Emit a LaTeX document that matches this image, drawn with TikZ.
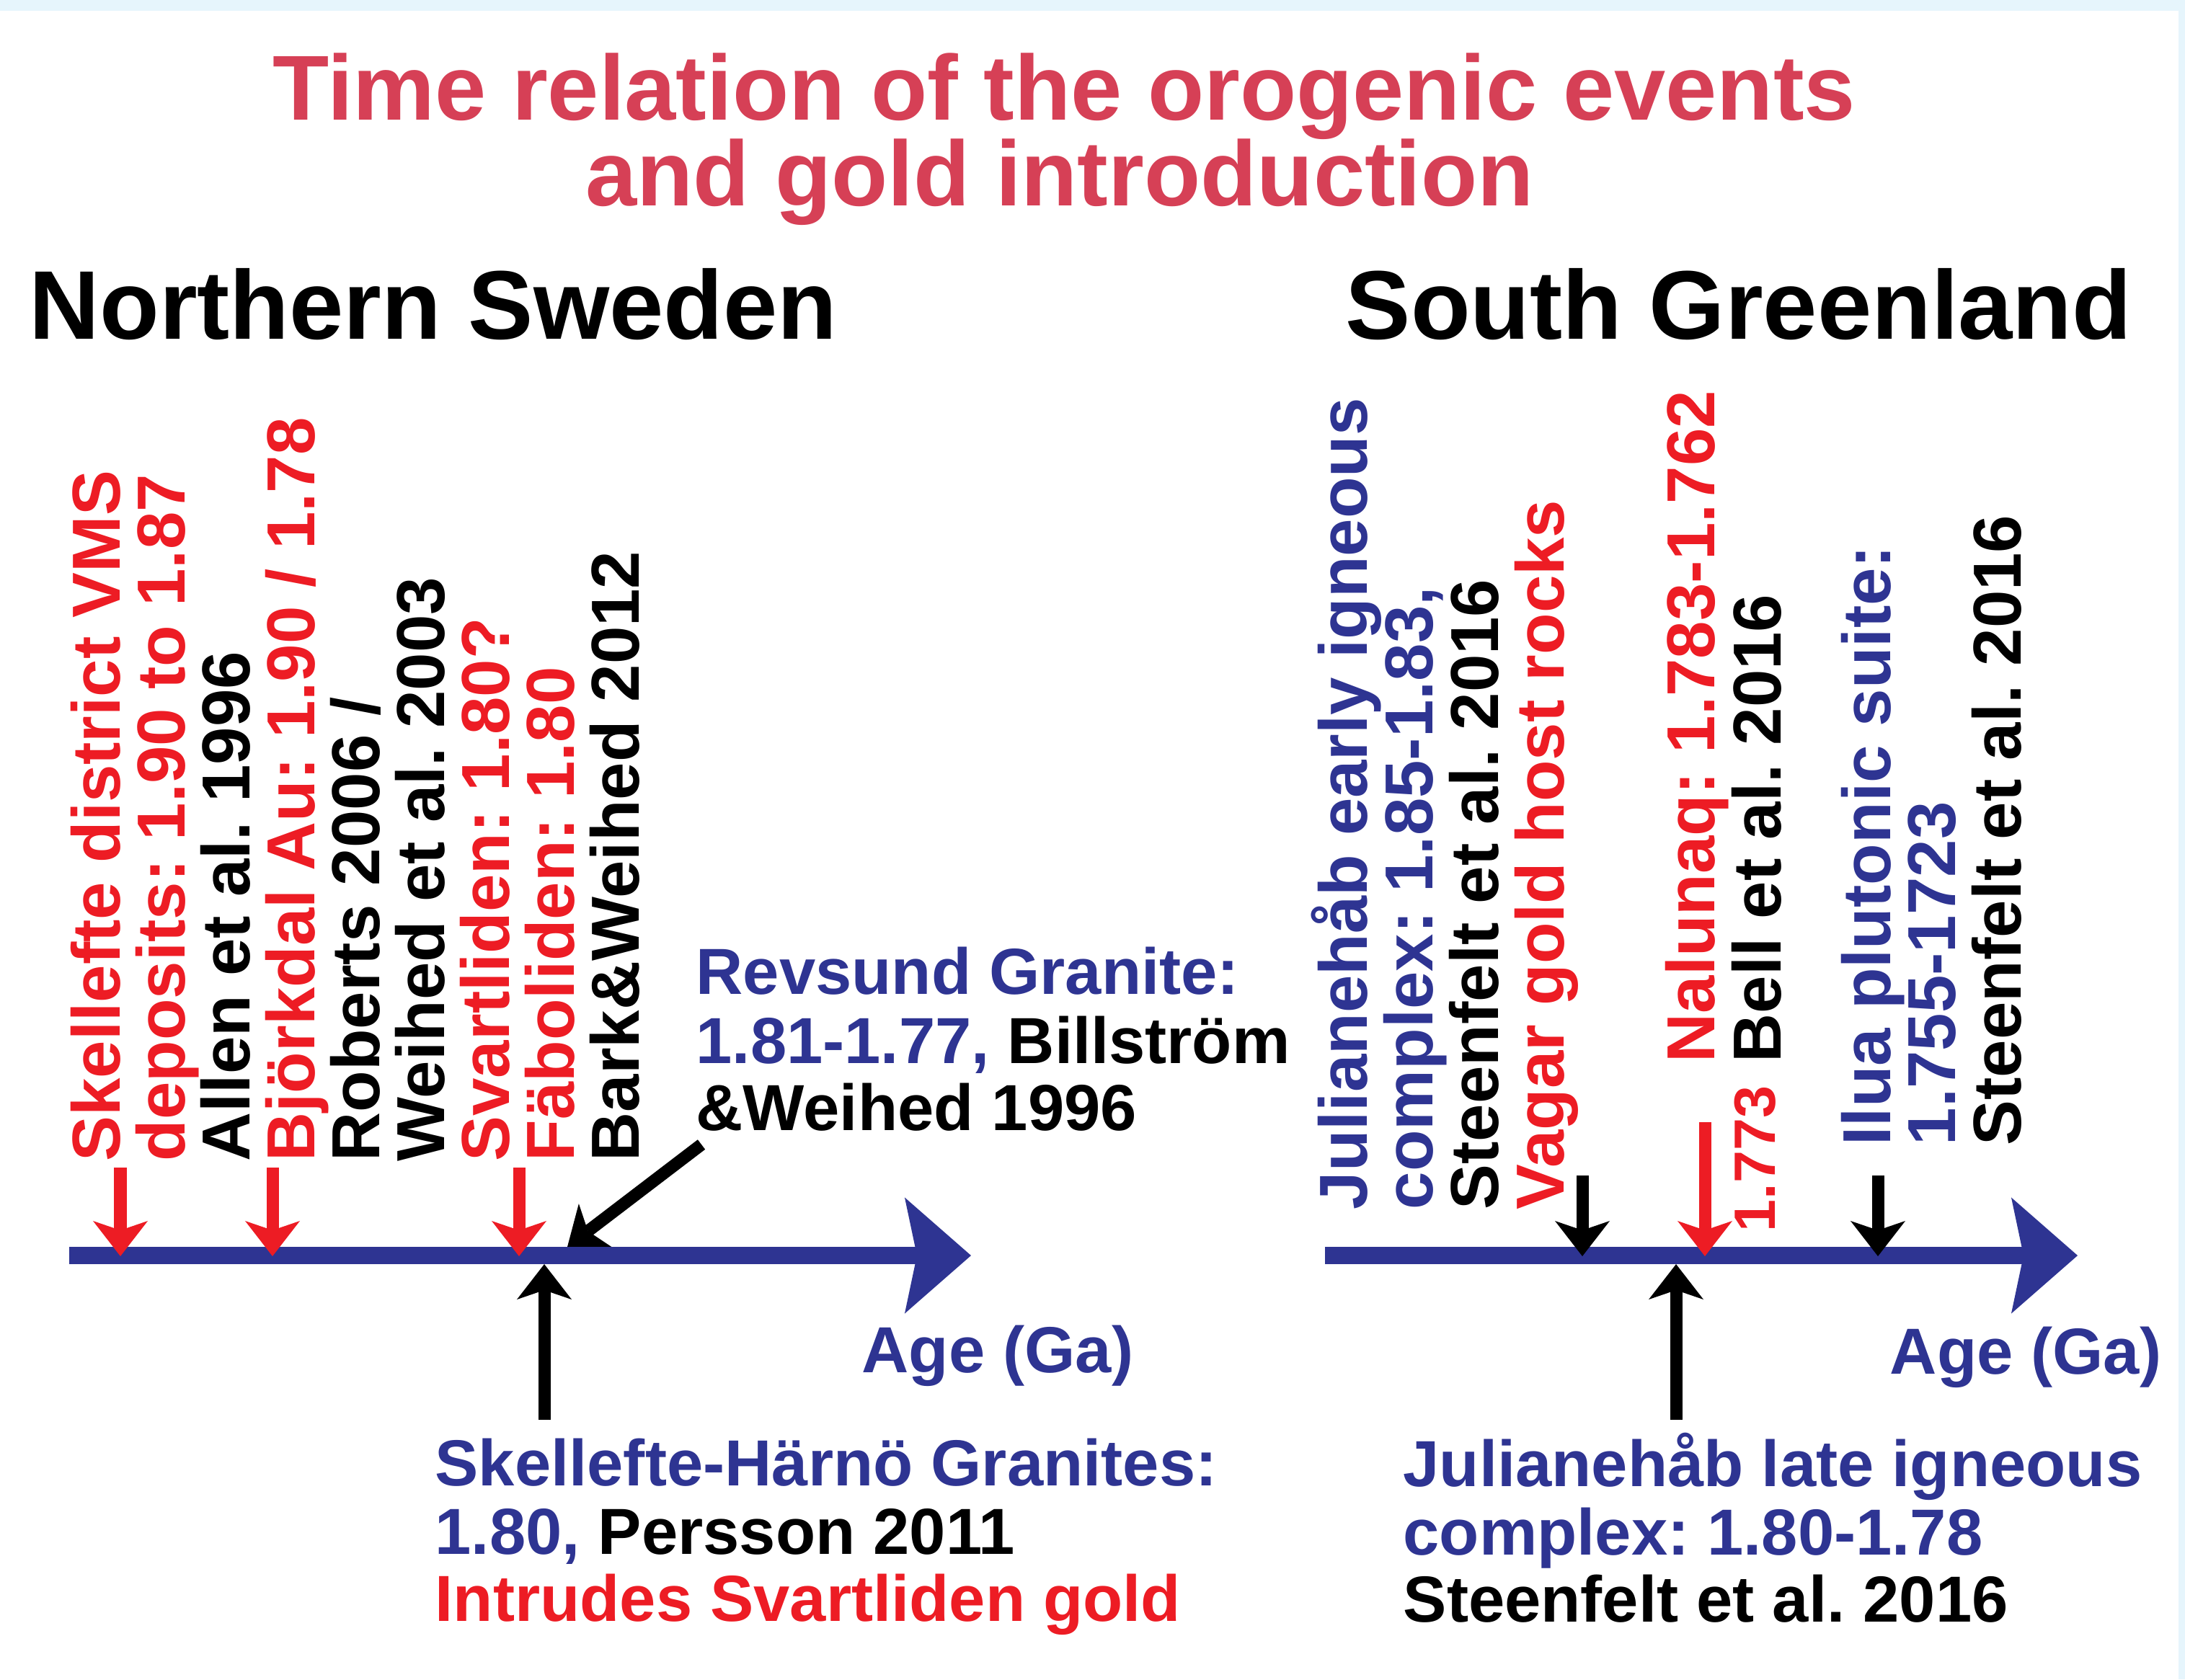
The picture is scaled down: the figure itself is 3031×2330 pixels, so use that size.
\documentclass[tikz,border=0pt]{standalone}
\usepackage{fontspec}
\setmainfont{Liberation Sans}
\frenchspacing
\definecolor{TitleRed}{RGB}{214,64,86}
\definecolor{AgeBlue}{RGB}{46,52,146}
\definecolor{GoldRed}{RGB}{237,28,36}
\definecolor{FrameBlue}{RGB}{230,245,252}
\usetikzlibrary{arrows.meta}
\tikzset{>=Stealth}
\tikzset{vlabel/.style={rotate=90,anchor=base west,inner sep=0pt,font=\fontsize{26.8}{26}\selectfont\bfseries}}
\tikzset{hlabel/.style={anchor=base west,inner sep=0pt,font=\fontsize{25.7}{26}\selectfont\bfseries}}
\tikzset{heading/.style={anchor=base west,inner sep=0pt,font=\fontsize{38.5}{40}\selectfont\bfseries}}
\tikzset{titleline/.style={anchor=base,inner sep=0pt,TitleRed,font=\fontsize{36.4}{38}\selectfont\bfseries}}
\tikzset{timebar/.style={AgeBlue,line width=0.24cm,-{Stealth[length=0.92cm,width=1.61cm,inset=0.17cm,line width=0pt]}}}
\tikzset{marker/.style={line width=0.17cm,-{Stealth[length=0.49cm,width=0.76cm,inset=0.13cm,line width=0pt]}}}

\begin{document}
\begin{tikzpicture}[x=0.01cm,y=-0.01cm]
  \useasboundingbox (0,0) rectangle (3031,2330);
  \fill[FrameBlue] (0,0) rectangle (3031,15);
  \fill[FrameBlue] (3022,0) rectangle (3031,2330);

  % title and headings
  \node[titleline] (title1) at (1476,166) {Time relation of the orogenic events};
  \node[titleline] (title2) at (1470,285) {and gold introduction};
  \node[heading] (sweden) at (40,470) {Northern Sweden};
  \node[heading] (greenland) at (1866,470) {South Greenland};

  % rotated event labels
  \foreach \col/\txt [count=\i from 0] in {GoldRed/{Skellefte district VMS}, GoldRed/{deposits: 1.90 to 1.87}, black/{Allen et al. 1996}, GoldRed/{Björkdal Au: 1.90 / 1.78}, black/{Roberts 2006 /}, black/{Weihed et al. 2003}, GoldRed/{Svartliden: 1.80?}, GoldRed/{Fäboliden: 1.80}, black/{Bark\&Weihed 2012}}
    \node[vlabel,\col] (swl\i) at (166+90*\i,1612) {\txt};
  \foreach \col/\txt [count=\i from 0] in {AgeBlue/{Julianehåb early igneous}, AgeBlue/{complex: 1.85-1.83,}, black/{Steenfelt et al. 2016}, GoldRed/{Vagar gold host rocks}}
    \node[vlabel,\col] (jel\i) at (1896+91*\i,1679) {\txt};
  \node[vlabel,GoldRed] (nal1) at (2378,1475) {Nalunaq: 1.783-1.762};
  \node[vlabel,GoldRed,font=\fontsize{23}{24}\selectfont\bfseries] (nal2) at (2462,1710) {1.773};
  \node[vlabel] (nal3) at (2470,1475) {Bell et al. 2016};
  \node[vlabel,AgeBlue] (ilua1) at (2622,1590) {Ilua plutonic suite:};
  \node[vlabel,AgeBlue] (ilua2) at (2712,1590) {1.755-1723};
  \node[vlabel] (ilua3) at (2803,1590) {Steenfelt et al. 2016};

  % horizontal labels
  \node[hlabel,AgeBlue] (rev1) at (965,1379) {Revsund Granite:};
  \node[hlabel] (rev2) at (965,1475) {\textcolor{AgeBlue}{1.81-1.77,} Billström};
  \node[hlabel] (rev3) at (965,1568) {\&Weihed 1996};
  \node[hlabel,AgeBlue] (shg1) at (603,2061) {Skellefte-Härnö Granites:};
  \node[hlabel] (shg2) at (603,2156) {\textcolor{AgeBlue}{1.80,} Persson 2011};
  \node[hlabel,GoldRed] (shg3) at (603,2249) {Intrudes Svartliden gold};
  \node[hlabel,AgeBlue] (jlc1) at (1946,2062) {Julianehåb late igneous};
  \node[hlabel,AgeBlue] (jlc2) at (1946,2157) {complex: 1.80-1.78};
  \node[hlabel] (jlc3) at (1946,2250) {Steenfelt et al. 2016};
  \node[hlabel,AgeBlue] (age1) at (1195,1904) {Age (Ga)};
  \node[hlabel,AgeBlue] (age2) at (2621,1906) {Age (Ga)};

  % Revsund arrow lies under the time bar
  \coordinate (revtail) at (973,1588);
  \coordinate (revtip) at (787,1730);
  \draw[marker] (revtail) -- (revtip);

  % time bars
  \coordinate (sw0) at (96,1742);
  \coordinate (sw1) at (1347,1742);
  \coordinate (gl0) at (1838,1742);
  \coordinate (gl1) at (2882,1742);
  \draw[timebar] (sw0) -- (sw1);
  \draw[timebar] (gl0) -- (gl1);

  % event markers
  \foreach \n/\x/\col/\top in {skel/167/GoldRed/1620, bjork/378/GoldRed/1620, svart/720/GoldRed/1620, vagar/2195/black/1631, nalunaq/2365/GoldRed/1557, ilua/2605/black/1631} {
    \coordinate (\n-top) at (\x,\top);
    \coordinate (\n) at (\x,1743);
    \draw[marker,\col] (\n-top) -- (\n);
  }
  \coordinate (shg-foot) at (755,1970);
  \coordinate (shg) at (755,1754);
  \draw[marker] (shg-foot) -- (shg);
  \coordinate (jlc-foot) at (2325,1970);
  \coordinate (jlc) at (2325,1754);
  \draw[marker] (jlc-foot) -- (jlc);
\end{tikzpicture}
\end{document}
